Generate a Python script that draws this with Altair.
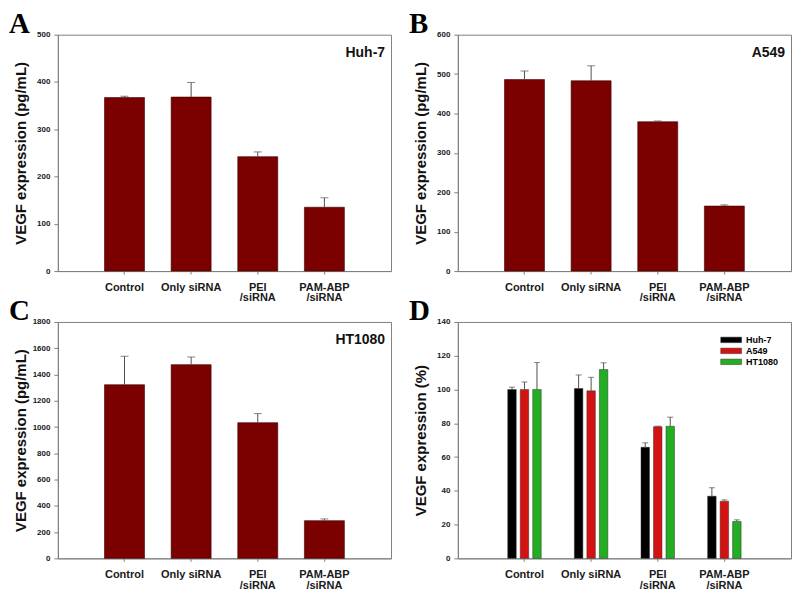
import altair as alt
import pandas as pd

# ---------------- data ----------------
categories = ["Control", "Only siRNA", "PEI\n/siRNA", "PAM-ABP\n/siRNA"]

huh7_mean = [367, 368, 242, 135]
huh7_err = [3, 31, 10, 20]

a549_mean = [486, 483, 379, 165]
a549_err = [22, 38, 2, 3]

ht1080_mean = [1322, 1475, 1033, 287]
ht1080_err = [216, 58, 69, 13]

cell_lines = ["Huh-7", "A549", "HT1080"]
cell_colors = ["#000000", "#d41212", "#22ad22"]

pct_huh7 = [100, 100.6, 65.8, 36.8]
pct_huh7_err = [1.4, 8.0, 2.6, 5.0]
pct_a549 = [100, 99.2, 78.0, 33.8]
pct_a549_err = [4.4, 8.0, 0.3, 0.8]
pct_ht1080 = [100, 111.8, 78.2, 21.8]
pct_ht1080_err = [16.0, 4.0, 5.4, 1.0]

# ---------------- style ----------------
W, H = 334, 237
AXIS_GRAY = "#808080"
BAR_RED = "#7b0000"
ERR_COL = "#505050"
FONT = "Liberation Sans"
LABEL_EXPR = "split(datum.value, '\\n')"


def x_enc():
    return alt.X(
        "cat:N",
        sort=categories,
        scale=alt.Scale(paddingInner=0.4, paddingOuter=0.7),
        axis=alt.Axis(
            title=None,
            labelExpr=LABEL_EXPR,
            labelAngle=0,
            labelFontSize=11,
            labelFontWeight="bold",
            labelPadding=7,
            labelLineHeight=11,
            labelBaseline="top",
            tickSize=3,
        ),
    )


def y_axis(title, ymax, step):
    return alt.Axis(
        title=title,
        values=list(range(0, ymax + 1, step)),
        format="d",
        labelOverlap=False,
        titleX=-32,
        titleBaseline="alphabetic",
        titleFontSize=15,
        titleFontWeight="bold",
        labelFontSize=8,
        labelFontWeight="bold",
        labelPadding=4,
        tickSize=4,
        grid=False,
    )


def y_enc(field, title, ymax, step):
    return alt.Y(field, scale=alt.Scale(domain=[0, ymax], nice=False),
                 axis=y_axis(title, ymax, step))


def letter_layer(letter):
    return alt.Chart(pd.DataFrame({"t": [letter]})).mark_text(
        align="left", baseline="alphabetic", font="Liberation Serif",
        fontSize=29, fontWeight="bold", color="#000000",
    ).encode(x=alt.value(-49), y=alt.value(-2), text="t:N")


def name_layer(name):
    return alt.Chart(pd.DataFrame({"t": [name]})).mark_text(
        align="right", baseline="alphabetic", font=FONT,
        fontSize=14, fontWeight="bold", color="#111111",
    ).encode(x=alt.value(W - 6), y=alt.value(22), text="t:N")


def single_panel(letter, name, means, errs, ymax, step):
    df = pd.DataFrame({
        "cat": categories,
        "mean": means,
        "top": [m + e for m, e in zip(means, errs)],
    })
    title = "VEGF expression (pg/mL)"
    base = alt.Chart(df)
    bars = base.mark_bar(fill=BAR_RED, stroke="#3a0000", strokeWidth=0.6).encode(
        x=x_enc(), y=y_enc("mean:Q", title, ymax, step)
    )
    err = base.mark_rule(color=ERR_COL, strokeWidth=1).encode(
        x=x_enc(), y=y_enc("mean:Q", title, ymax, step), y2="top:Q"
    )
    cap = base.mark_tick(color=ERR_COL, thickness=1, size=8).encode(
        x=x_enc(), y=y_enc("top:Q", title, ymax, step)
    )
    return alt.layer(bars, err, cap, name_layer(name), letter_layer(letter)).properties(
        width=W, height=H
    )


# panel D data
rows = []
for cl, ms, es in zip(cell_lines,
                      [pct_huh7, pct_a549, pct_ht1080],
                      [pct_huh7_err, pct_a549_err, pct_ht1080_err]):
    for c, m, e in zip(categories, ms, es):
        rows.append({"cat": c, "cell": cl, "mean": m, "top": m + e})
dfD = pd.DataFrame(rows)

xo = alt.XOffset("cell:N", sort=cell_lines,
                 scale=alt.Scale(paddingInner=0.32, paddingOuter=0.26))
titleD = "VEGF expression (%)"
baseD = alt.Chart(dfD)
barsD = baseD.mark_bar(stroke="#333333", strokeWidth=0.5).encode(
    x=x_enc(),
    xOffset=xo,
    y=y_enc("mean:Q", titleD, 140, 20),
    color=alt.Color(
        "cell:N", sort=cell_lines,
        scale=alt.Scale(domain=cell_lines, range=cell_colors),
        legend=alt.Legend(
            title=None, orient="none", legendX=669, legendY=300,
            symbolType="M-1.9,-0.5H1.9V0.5H-1.9Z", symbolSize=121,
            symbolStrokeColor="#333333", symbolStrokeWidth=0.5,
            labelFontSize=9, labelFontWeight="bold", labelFont=FONT,
            labelOffset=9, rowPadding=0, padding=0,
        ),
    ),
)
errD = baseD.mark_rule(color=ERR_COL, strokeWidth=1).encode(
    x=x_enc(), xOffset=xo, y=y_enc("mean:Q", titleD, 140, 20), y2="top:Q"
)
capD = baseD.mark_tick(color=ERR_COL, thickness=1, size=6).encode(
    x=x_enc(), xOffset=xo, y=y_enc("top:Q", titleD, 140, 20)
)
panelD = alt.layer(barsD, errD, capD, letter_layer("D")).properties(width=W, height=H)

panelA = single_panel("A", "Huh-7", huh7_mean, huh7_err, 500, 100)
panelB = single_panel("B", "A549", a549_mean, a549_err, 600, 100)
panelC = single_panel("C", "HT1080", ht1080_mean, ht1080_err, 1800, 200)

chart = alt.concat(
    panelA, panelB, panelC, panelD,
    columns=2,
    spacing=alt.RowColnumber(row=51, column=67),
    bounds="flush",
).properties(
    padding={"left": 0, "top": 0, "right": 0, "bottom": 0},
).configure(
    font=FONT,
).configure_view(
    stroke=AXIS_GRAY, strokeWidth=1,
).configure_axis(
    domainColor=AXIS_GRAY, tickColor=AXIS_GRAY,
    labelColor="#1a1a1a", titleColor="#111111",
    labelFont=FONT, titleFont=FONT,
)

chart.save("out.html", embed_options={"renderer": "svg", "actions": False})
